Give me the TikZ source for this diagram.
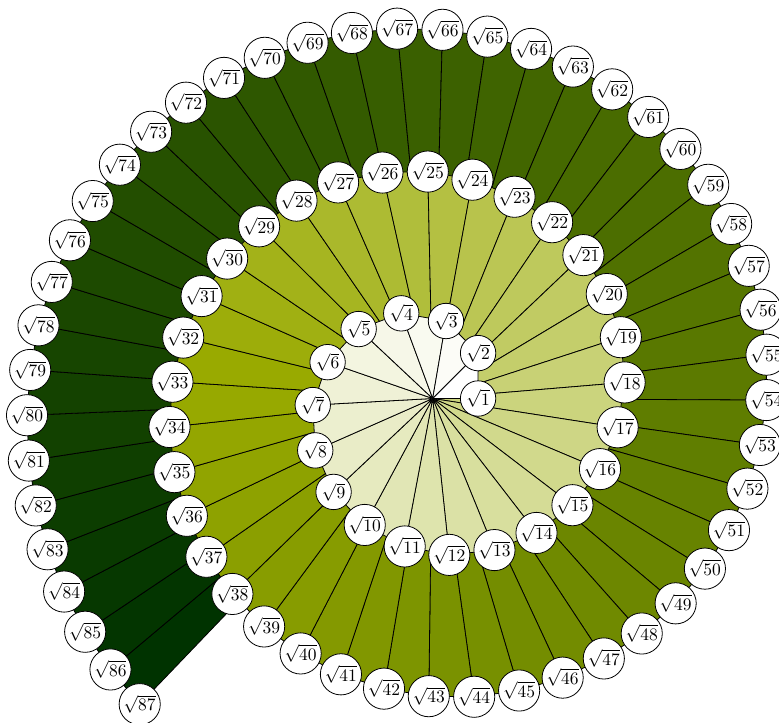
\documentclass[tikz,border=0pt]{standalone}
\usepackage{xcolor}
\usepackage{tikz}
\definecolor{SpiralLeaf}{HTML}{99AA00}
\definecolor{SpiralDeep}{HTML}{003300}

\begin{document}
\begin{tikzpicture}[x=1cm,y=1cm,line width=.5pt,
  rootnode/.style={circle,draw=black,fill=white,inner sep=1pt,minimum size=0.78cm,
    font=\fontsize{11pt}{13pt}\selectfont}]
\path[use as bounding box] (-9.531,-7.126) rectangle (7.628,8.778);
\gdef\curang{0}
\foreach \n in {1,...,87}{
  \coordinate (p\n) at (\curang:{sqrt(\n)});
  \pgfmathsetmacro\nextang{\curang+atan(1/sqrt(\n))}
  \xdef\curang{\nextang}
}
\foreach \n in {86,85,...,1}{
  \pgfmathtruncatemacro\m{\n+1}
  \ifnum\n<33
    \pgfmathtruncatemacro\pct{100*(\n-1)/31}
    \colorlet{tricol}{SpiralLeaf!\pct!white}
  \else
    \pgfmathtruncatemacro\pct{100*(\n-32)/54}
    \colorlet{tricol}{SpiralDeep!\pct!SpiralLeaf}
  \fi
  \filldraw[fill=tricol] (0,0) -- (p\n) -- (p\m) -- cycle;
}
\foreach \n in {1,...,87}
  \node[rootnode] (r\n) at (p\n) {$\sqrt{\n}$};
\end{tikzpicture}
\end{document}
